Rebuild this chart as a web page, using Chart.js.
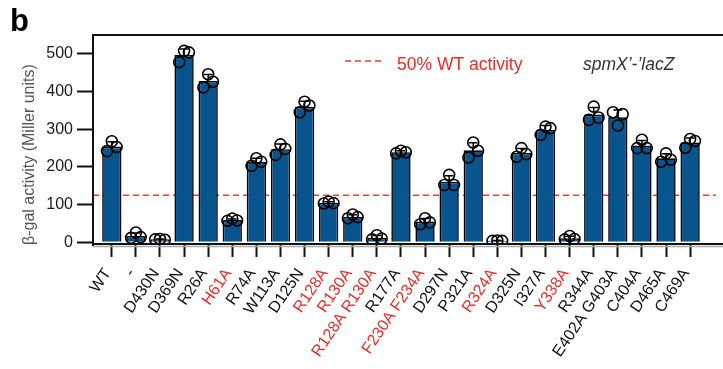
<!DOCTYPE html>
<html>
<head>
<meta charset="utf-8">
<script src="https://cdn.jsdelivr.net/npm/chart.js@4.4.1/dist/chart.umd.min.js"></script>
<style>
  html, body { margin: 0; padding: 0; background: #ffffff; }
  #wrap { width: 723px; height: 369px; position: relative; }
</style>
</head>
<body>
<div id="wrap"><canvas id="chart" width="723" height="369"></canvas></div>
<script>
// spmX variants tested in the spmX'-'lacZ reporter
const mutants = ['WT', '-', 'D430N', 'D369N', 'R26A', 'H61A', 'R74A', 'W113A', 'D125N',
  'R128A', 'R130A', 'R128A R130A', 'R177A', 'F230A F234A', 'D297N', 'P321A', 'R324A',
  'D325N', 'I327A', 'Y338A', 'R344A', 'E402A G403A', 'C404A', 'D465A', 'C469A'];

// variants falling below half of wild-type activity
const belowHalf = ['H61A', 'R128A', 'R130A', 'R128A R130A', 'F230A F234A', 'R324A', 'Y338A'];

// mean β-gal activity (Miller units)
const meanActivity = [254, 17, 8, 497, 428, 59, 213, 247, 360, 105, 68, 12, 239, 55, 161,
  244, 4, 237, 298, 11, 339, 332, 257, 223, 265];

// standard deviation of the replicates
const sdActivity = [13, 8, 1, 16, 17, 3, 10, 14, 14, 3, 5, 6, 4, 8, 16, 20, 1, 12, 12, 5,
  19, 19, 13, 12, 12];

// individual replicates
const replicateA = [242, 12, 8, 478, 411, 57, 203, 232, 345, 103, 64, 8, 236, 48, 152, 225, 4, 227, 285, 8, 325, 345, 250, 214, 251];
const replicateB = [268, 26, 9, 508, 446, 63, 223, 260, 373, 108, 74, 19, 243, 64, 179, 265, 5, 250, 307, 17, 360, 310, 272, 236, 274];
const replicateC = [253, 14, 7, 504, 426, 58, 214, 248, 363, 104, 67, 10, 239, 53, 152, 243, 4, 234, 303, 9, 331, 340, 250, 219, 269];

const yTickValues = [0, 100, 200, 300, 400, 500];
const halfWildType = 125;

const BAR_BLUE = '#07548f';
const RED = '#ee2b27';
const FONT = '"Liberation Sans", Arial, Helvetica, sans-serif';
const JITTER = 0.2;

const barPoints = meanActivity.map((v, i) => ({ x: i, y: v }));
const dotPoints = [];
mutants.forEach((m, i) => {
  dotPoints.push({ x: i - JITTER, y: replicateA[i] });
  dotPoints.push({ x: i, y: replicateB[i] });
  dotPoints.push({ x: i + JITTER, y: replicateC[i] });
});

// dashed 50% WT reference line, behind the bars
const thresholdLine = {
  id: 'thresholdLine',
  beforeDatasetsDraw(chart) {
    const { ctx, chartArea, scales } = chart;
    const y = scales.y.getPixelForValue(halfWildType);
    ctx.save();
    ctx.strokeStyle = '#e8402f';
    ctx.lineWidth = 1.6;
    ctx.setLineDash([6, 4]);
    ctx.beginPath();
    ctx.moveTo(chartArea.left, y);
    ctx.lineTo(chartArea.right, y);
    ctx.stroke();
    ctx.restore();
  }
};

// upper SD whiskers drawn over the bars, under the replicate dots
const errorBars = {
  id: 'errorBars',
  afterDatasetDraw(chart, args) {
    if (args.index !== 0) return;
    const { ctx, scales } = chart;
    ctx.save();
    ctx.strokeStyle = '#000';
    ctx.lineWidth = 1.5;
    meanActivity.forEach((m, i) => {
      const x = scales.x.getPixelForValue(i);
      const y0 = scales.y.getPixelForValue(m);
      const y1 = scales.y.getPixelForValue(m + sdActivity[i]);
      ctx.beginPath();
      ctx.moveTo(x, y0);
      ctx.lineTo(x, y1);
      ctx.moveTo(x - 4.5, y1);
      ctx.lineTo(x + 4.5, y1);
      ctx.stroke();
    });
    ctx.restore();
  }
};

// plot frame, legend key, reporter name and panel letter
const decorations = {
  id: 'decorations',
  afterDraw(chart) {
    const { ctx, chartArea } = chart;
    const L = chartArea.left, T = chartArea.top, B = chartArea.bottom, R = chart.width;
    ctx.save();
    ctx.strokeStyle = '#111';
    ctx.lineWidth = 2;
    ctx.beginPath();
    ctx.moveTo(L, B + 1);
    ctx.lineTo(L, T);
    ctx.lineTo(R, T);
    ctx.moveTo(L, B - 1);
    ctx.lineTo(R, B - 1);
    ctx.stroke();
    ctx.strokeStyle = '#a8a8a8';
    ctx.lineWidth = 1.5;
    ctx.beginPath();
    ctx.moveTo(L, B + 1.5);
    ctx.lineTo(R, B + 1.5);
    ctx.stroke();

    // legend key
    ctx.strokeStyle = '#e8402f';
    ctx.lineWidth = 1.6;
    ctx.setLineDash([6, 4]);
    ctx.beginPath();
    ctx.moveTo(345, 61);
    ctx.lineTo(385, 61);
    ctx.stroke();
    ctx.setLineDash([]);

    ctx.textBaseline = 'alphabetic';
    ctx.textAlign = 'left';
    ctx.fillStyle = RED;
    ctx.font = '17.5px ' + FONT;
    ctx.fillText('50% WT activity', 397, 70);

    ctx.fillStyle = '#333';
    ctx.font = 'italic 17.5px ' + FONT;
    ctx.fillText('spmX\u2019-\u2019lacZ', 583, 70);

    ctx.fillStyle = '#000';
    ctx.font = 'bold 31px ' + FONT;
    ctx.fillText('b', 10, 31);
    ctx.restore();
  }
};

new Chart(document.getElementById('chart'), {
  type: 'bar',
  data: {
    datasets: [
      {
        type: 'bar',
        data: barPoints,
        backgroundColor: BAR_BLUE,
        borderColor: '#000',
        borderWidth: 1.6,
        barPercentage: 0.8,
        categoryPercentage: 1.0,
        order: 2
      },
      {
        type: 'scatter',
        data: dotPoints,
        pointRadius: 5.5,
        pointBorderWidth: 1.6,
        pointBackgroundColor: 'rgba(0,0,0,0)',
        pointBorderColor: '#000',
        showLine: false,
        order: 1
      }
    ]
  },
  options: {
    responsive: false,
    devicePixelRatio: 1,
    animation: false,
    layout: { padding: { top: 35, right: 0, bottom: 0, left: 0 } },
    plugins: { legend: { display: false }, tooltip: { enabled: false } },
    scales: {
      x: {
        type: 'linear',
        offset: false,
        min: -0.78,
        max: 25.07,
        border: { display: false },
        grid: { offset: false, drawOnChartArea: false, drawTicks: true, tickLength: 12, tickWidth: 2, tickColor: '#111' },
        afterBuildTicks: (scale) => {
          scale.ticks = mutants.map((m, i) => ({ value: i }));
        },
        afterFit: (scale) => {
          scale.height = 124;
          scale.paddingLeft = 0;
          scale.paddingRight = 0;
        },
        ticks: {
          autoSkip: false,
          maxRotation: 56,
          minRotation: 56,
          padding: 8,
          labelOffset: -4,
          font: { family: FONT, size: 16 },
          color: (c) => belowHalf.includes(mutants[c.tick.value]) ? RED : '#111',
          callback: (v) => mutants[v]
        }
      },
      y: {
        min: -7,
        max: 550,
        border: { display: false },
        grid: { drawOnChartArea: false, drawTicks: true, tickLength: 16, tickWidth: 2, tickColor: '#111' },
        afterBuildTicks: (scale) => {
          scale.ticks = yTickValues.map(v => ({ value: v }));
        },
        afterFit: (scale) => { scale.width = 93; },
        ticks: {
          padding: 4,
          font: { family: FONT, size: 16 },
          color: '#1a1a1a'
        },
        title: {
          display: true,
          text: 'β-gal activity (Miller units)',
          align: 'start',
          color: '#555',
          font: { family: FONT, size: 16 },
          padding: { top: 20, bottom: 0 }
        }
      }
    }
  },
  plugins: [thresholdLine, errorBars, decorations]
});
</script>
</body>
</html>
